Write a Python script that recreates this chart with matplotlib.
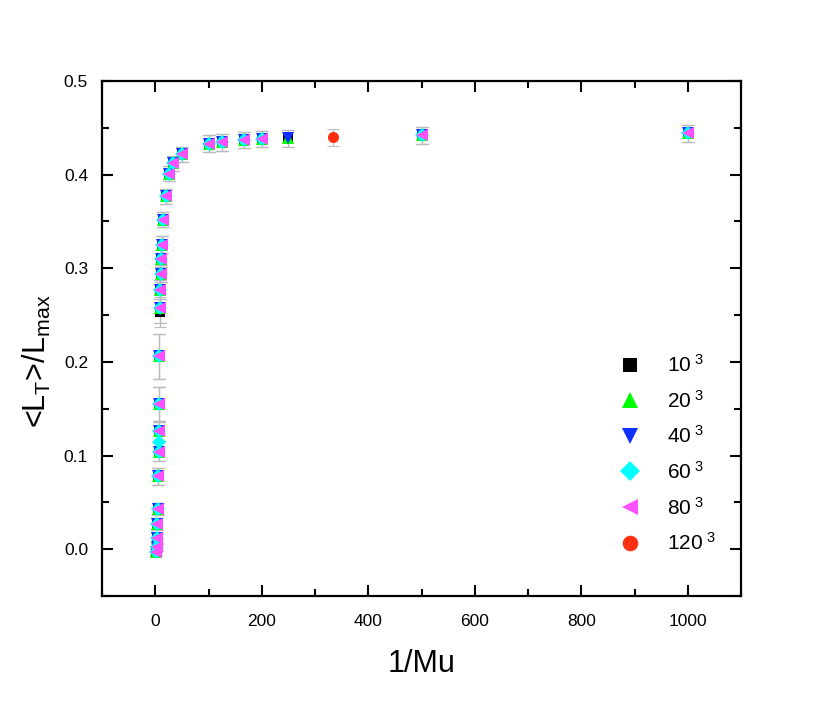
import numpy as np
from matplotlib import pyplot as plt
import matplotlib
from matplotlib.ticker import MultipleLocator

matplotlib.rcParams['font.family'] = 'Liberation Sans'
matplotlib.rcParams['mathtext.fontset'] = 'custom'
matplotlib.rcParams['mathtext.rm'] = 'Liberation Sans'
matplotlib.rcParams['mathtext.it'] = 'Liberation Sans:italic'
matplotlib.rcParams['mathtext.default'] = 'regular'

# 1/Mu values shared by most lattice sizes
x_base = [1000, 500, 200, 166.7, 125, 100, 50, 33.3, 25, 20, 14.3, 12.5, 11.1, 10,
          9.1, 8.3, 7.7, 7.1, 6.7, 6.25, 5.9, 5.0, 4.0, 3.3, 2.5, 2.0]
y_base = [0.444, 0.442, 0.438, 0.437, 0.4345, 0.433, 0.422, 0.412, 0.401, 0.377,
          0.352, 0.325, 0.310, 0.294, 0.277, 0.258, 0.206, 0.155, 0.126, 0.104,
          0.078, 0.043, 0.027, 0.012, 0.002, -0.003]
e_base = [0.009, 0.009, 0.009, 0.009, 0.009, 0.009, 0.008, 0.008, 0.008, 0.008,
          0.008, 0.009, 0.009, 0.009, 0.010, 0.016, 0.024, 0.018, 0.010, 0.010,
          0.009, 0.006, 0.006, 0.005, 0.004, 0.003]

x10 = x_base + [250]
y10 = y_base[:15] + [0.253] + y_base[16:] + [0.439]
e10 = e_base + [0.009]

x20 = x_base + [250]
y20 = y_base + [0.439]
e20 = e_base + [0.009]

x40 = x_base + [250]
y40 = y_base + [0.439]
e40 = e_base + [0.009]

x60 = x_base + [6.5]
y60 = y_base + [0.114]
e60 = e_base + [0.008]

x80 = x_base
y80 = y_base
e80 = e_base

x120 = [333.3]
y120 = [0.440]
e120 = [0.009]

series = [
    (x10, y10, e10, 's', '#000000', 7, r'10$^{\ 3}$'),
    (x20, y20, e20, '^', '#00ff00', 8, r'20$^{\ 3}$'),
    (x40, y40, e40, 'v', '#1030ff', 8, r'40$^{\ 3}$'),
    (x60, y60, e60, 'D', '#00ffff', 7, r'60$^{\ 3}$'),
    (x80, y80, e80, '<', '#ff50ff', 8, r'80$^{\ 3}$'),
    (x120, y120, e120, 'o', '#ff3010', 8, r'120$^{\ 3}$'),
]

fig = plt.figure(figsize=(8.3, 7.03), dpi=100)
ax = fig.add_axes([0.1229, 0.1522, 0.7699, 0.7326])

for x, y, e, m, c, ms, lab in series:
    ax.errorbar(x, y, yerr=e, fmt='none', ecolor='#bbbbbb', elinewidth=0.8,
                capsize=4, capthick=0.8, zorder=2)
    ax.plot(x, y, linestyle='none', marker=m, color=c, markersize=ms,
            markeredgewidth=0, label=lab, zorder=3)

ax.set_xlim(-100, 1100)
ax.set_ylim(-0.05, 0.5)
ax.xaxis.set_major_locator(MultipleLocator(200))
ax.xaxis.set_minor_locator(MultipleLocator(100))
ax.yaxis.set_major_locator(MultipleLocator(0.1))
ax.yaxis.set_minor_locator(MultipleLocator(0.05))
ax.set_xticks([0, 200, 400, 600, 800, 1000])
ax.set_yticks([0.0, 0.1, 0.2, 0.3, 0.4, 0.5])
ax.set_yticklabels(['0.0', '0.1', '0.2', '0.3', '0.4', '0.5'])
ax.tick_params(axis='both', which='both', direction='in', top=True, right=True,
               width=1.5, labelsize=12.5)
ax.tick_params(axis='y', pad=10)
ax.tick_params(axis='x', pad=13)
ax.tick_params(which='major', length=8)
ax.tick_params(which='minor', length=5)
for s in ax.spines.values():
    s.set_linewidth(1.6)

ax.set_xlabel('1/Mu', fontsize=22, labelpad=14)
ax.set_ylabel(r'<L$_T$>/L$_{max}$', fontsize=22)
ax.yaxis.set_label_coords(-0.077, 0.456)

ax.legend(loc='lower right', bbox_to_anchor=(0.99, 0.045), frameon=False,
          fontsize=15, markerscale=1.4, handletextpad=1.3, labelspacing=0.66,
          handlelength=1.0)

fig.savefig('out.png', dpi=100)
